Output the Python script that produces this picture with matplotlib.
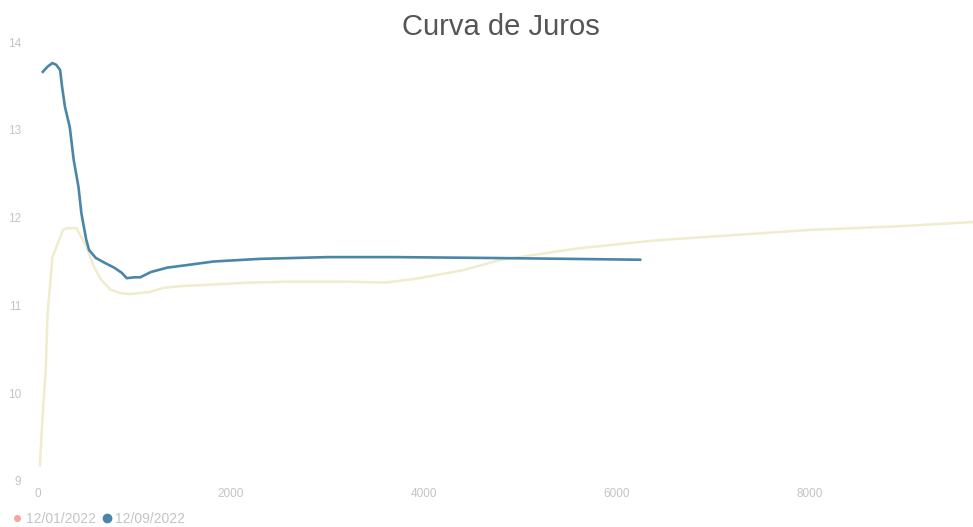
import matplotlib.pyplot as plt
from matplotlib.lines import Line2D

# Curva de juros: prazo (dias) x taxa (%)
dias_jan = [20, 50, 80, 100, 150, 260, 300, 400, 500, 580, 650, 750, 850, 950,
            1150, 1300, 1500, 2200, 2600, 3200, 3600, 3900, 4400, 4800, 5600,
            6400, 7200, 8000, 8900, 9700]
taxa_jan = [9.18, 9.77, 10.25, 10.9, 11.55, 11.86, 11.88, 11.88, 11.67, 11.44,
            11.3, 11.18, 11.14, 11.13, 11.15, 11.2, 11.22, 11.26, 11.27, 11.27,
            11.26, 11.3, 11.4, 11.52, 11.65, 11.74, 11.80, 11.86, 11.90, 11.95]

dias_set = [50, 100, 150, 190, 230, 250, 280, 330, 370, 420, 450, 500, 530,
            600, 700, 790, 830, 870, 920, 1000, 1060, 1170, 1340, 1550, 1820,
            2300, 3000, 3700, 4700, 5500, 6240]
taxa_set = [13.66, 13.72, 13.76, 13.74, 13.68, 13.49, 13.26, 13.03, 12.66,
            12.35, 12.05, 11.75, 11.63, 11.54, 11.48, 11.43, 11.4, 11.37,
            11.31, 11.32, 11.32, 11.38, 11.43, 11.46, 11.5, 11.53, 11.55,
            11.55, 11.54, 11.53, 11.52]

tick_x = [0, 2000, 4000, 6000, 8000]
tick_y = [9, 10, 11, 12, 13, 14]

cor_jan = "#f0ecce"
cor_jan_marker = "#f2a79a"
cor_set = "#4a86a8"
cinza = "#c4c4c4"

plt.rcParams["font.family"] = ["Liberation Sans", "DejaVu Sans"]

fig = plt.figure(figsize=(9.73, 5.27), dpi=100)
ax = fig.add_axes([0.039, 0.0873, 0.961, 0.8330])

ax.plot(dias_jan, taxa_jan, color=cor_jan, linewidth=1.8)
ax.plot(dias_set, taxa_set, color=cor_set, linewidth=1.9)

ax.set_xlim(0, 9690)
ax.set_ylim(9, 14)
ax.set_xticks(tick_x)
ax.set_yticks(tick_y)
ax.tick_params(axis="both", length=0, labelsize=8.5, labelcolor=cinza)
ax.tick_params(axis="y", pad=12)
ax.tick_params(axis="x", pad=5)
for s in ax.spines.values():
    s.set_visible(False)

fig.text(0.515, 0.948, "Curva de Juros", ha="center", va="center",
         fontsize=21, color="#555555")

# legenda manual no canto inferior esquerdo
handles = [
    Line2D([], [], linestyle="none", marker="o", markersize=4,
           color=cor_jan_marker),
    Line2D([], [], linestyle="none", marker="o", markersize=6,
           color=cor_set),
]
fig.legend(handles, ["12/01/2022", "12/09/2022"], loc="lower left",
           bbox_to_anchor=(-0.002, -0.022), ncol=2, frameon=False,
           fontsize=10, labelcolor=cinza, handletextpad=0.1,
           columnspacing=0.3, handlelength=1.0)

fig.savefig("out.png", dpi=100, facecolor="white")
